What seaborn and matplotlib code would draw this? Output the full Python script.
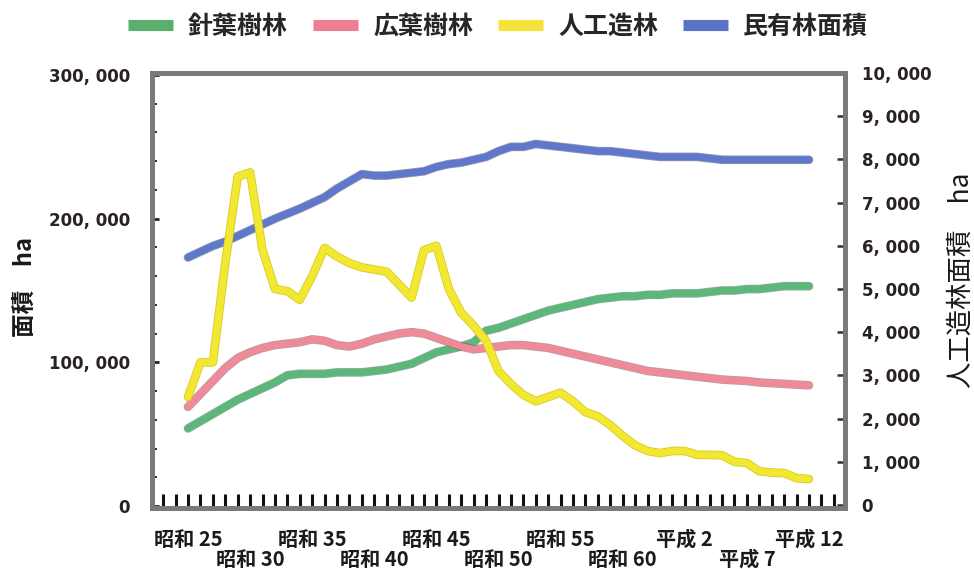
import matplotlib
matplotlib.use("Agg")
import matplotlib.pyplot as plt
import matplotlib.patheffects as pe
from matplotlib.lines import Line2D
from matplotlib.ticker import MultipleLocator, FixedLocator
import numpy as np
import pandas as pd
import seaborn as sns

# ---- data: 民有林の樹種別面積と人工造林面積 (1950–2000) ----
years = list(range(1950, 2001))

# 針葉樹林 (ha)
conifer = [54000, 59000, 64000, 69000, 74000, 78000, 82000, 86000, 91000, 92000,
           92000, 92000, 93000, 93000, 93000, 94000, 95000, 97000, 99000, 103000,
           107000, 109000, 111000, 114000, 122000, 124000, 127000, 130000, 133000, 136000,
           138000, 140000, 142000, 144000, 145000, 146000, 146000, 147000, 147000, 148000,
           148000, 148000, 149000, 150000, 150000, 151000, 151000, 152000, 153000, 153000,
           153000]

# 広葉樹林 (ha)
broadleaf = [69000, 78000, 87000, 96000, 103000, 107000, 110000, 112000, 113000, 114000,
             116000, 115000, 112000, 111000, 113000, 116000, 118000, 120000, 121000, 120000,
             117000, 114000, 111000, 109000, 110000, 111000, 112000, 112000, 111000, 110000,
             108000, 106000, 104000, 102000, 100000, 98000, 96000, 94000, 93000, 92000,
             91000, 90000, 89000, 88000, 87500, 87000, 86000, 85500, 85000, 84500,
             84000]

# 人工造林 (ha, 右軸)
planted = [2500, 3300, 3300, 5600, 7600, 7700, 5900, 5000, 4950, 4750,
           5300, 5950, 5750, 5600, 5500, 5450, 5400, 5100, 4800, 5900,
           6000, 5000, 4450, 4150, 3800, 3100, 2800, 2550, 2400, 2500,
           2600, 2400, 2150, 2050, 1850, 1600, 1380, 1250, 1200, 1250,
           1250, 1160, 1160, 1150, 1000, 970, 780, 750, 740, 620,
           600]

# 民有林面積 (ha)
private_forest = [173000, 177000, 181000, 184000, 188000, 192000, 196000, 200000, 203500, 207000,
                  211000, 215000, 221000, 226000, 231000, 230000, 230000, 231000, 232000, 233000,
                  236000, 238000, 239000, 241000, 243000, 247000, 250000, 250000, 252000, 251000,
                  250000, 249000, 248000, 247000, 247000, 246000, 245000, 244000, 243000, 243000,
                  243000, 243000, 242000, 241000, 241000, 241000, 241000, 241000, 241000, 241000,
                  241000]

series_names = ["針葉樹林", "広葉樹林", "人工造林", "民有林面積"]
series_colors = ["#5cb87a", "#f08a98", "#f2e832", "#5f78cc"]
legend_colors = ["#5aae6e", "#ee7f92", "#f4e43a", "#5b73c6"]

tick_years = list(range(1950, 2001, 5))
tick_labels = ["昭和 25", "昭和 30", "昭和 35", "昭和 40", "昭和 45", "昭和 50",
               "昭和 55", "昭和 60", "平成 2", "平成 7", "平成 12"]

left_ticks = [0, 100000, 200000, 300000]
right_ticks = list(range(0, 10001, 1000))

# ---- style ----
sns.set_theme(style="white")
plt.rcParams["font.family"] = ["Noto Sans CJK JP", "DejaVu Sans"]

df = pd.DataFrame({"year": years, "conifer": conifer, "broadleaf": broadleaf,
                   "planted": planted, "private": private_forest})

fig = plt.figure(figsize=(9.74, 5.69), dpi=100)
ax = fig.add_axes([152 / 974, 1 - 508 / 569, (845 - 152) / 974, (508 - 73) / 569])
ax2 = ax.twinx()


def outline(color):
    c = np.array(matplotlib.colors.to_rgb(color)) * 0.55
    return [pe.Stroke(linewidth=6.2, foreground=c, alpha=0.55), pe.Normal()]


lw = 5.0
sns.lineplot(data=df, x="year", y="private", ax=ax, color=series_colors[3], lw=lw,
             path_effects=outline(series_colors[3]), zorder=3)
sns.lineplot(data=df, x="year", y="conifer", ax=ax, color=series_colors[0], lw=lw,
             path_effects=outline(series_colors[0]), zorder=3)
sns.lineplot(data=df, x="year", y="broadleaf", ax=ax, color=series_colors[1], lw=lw,
             path_effects=outline(series_colors[1]), zorder=3)
sns.lineplot(data=df, x="year", y="planted", ax=ax2, color=series_colors[2], lw=lw,
             path_effects=[pe.Stroke(linewidth=6.2, foreground="#d8cc20"), pe.Normal()],
             zorder=4)

# ---- axes ranges ----
ax.set_xlim(1947.1, 2002.9)
ax.set_ylim(-1400, 301400)
ax2.set_ylim(-70, 10000)

# ---- x axis: every year inward, labels every 5 years in two rows ----
ax.xaxis.set_major_locator(FixedLocator(tick_years))
ax.xaxis.set_minor_locator(MultipleLocator(1))
ax.set_xticklabels([lab if i % 2 == 0 else "\n" + lab for i, lab in enumerate(tick_labels)],
                   fontsize=14.5, fontweight="bold", color="#1a1a1a", linespacing=0.95)
ax.tick_params(axis="x", which="both", direction="in", length=10, width=2.2,
               color="#111111", bottom=True, top=False, pad=15)

# ---- left axis ----
ax.yaxis.set_major_locator(FixedLocator(left_ticks))
ax.yaxis.set_minor_locator(MultipleLocator(20000))
ax.set_yticklabels([f"{v:,}".replace(",", ", ") for v in left_ticks],
                   fontsize=12, fontweight="bold", color="#2a2222",
                   family="DejaVu Sans")
ax.tick_params(axis="y", which="major", direction="in", length=5, width=2,
               color="#222222", left=True, right=False, pad=16)
ax.tick_params(axis="y", which="minor", direction="in", length=3.5, width=1.4,
               color="#333333", left=True, right=False)

# ---- right axis ----
ax2.yaxis.set_major_locator(FixedLocator(right_ticks))
ax2.set_yticklabels([f"{v:,}".replace(",", ", ") for v in right_ticks],
                    fontsize=12, fontweight="bold", color="#2a2222",
                    family="DejaVu Sans")
ax2.tick_params(axis="y", which="major", direction="in", length=6, width=1.8,
                color="#333333", right=True, left=False, pad=12)

ax.set_xlabel("")
ax.set_ylabel("")
ax2.set_ylabel("")

# ---- frame ----
for a in (ax, ax2):
    for s in a.spines.values():
        s.set_color("#7a7a7a")
        s.set_linewidth(3.5)

# ---- axis titles ----
fig.text(25 / 974, 1 - 287 / 569, "面積　ha", rotation=90, ha="center", va="center",
         fontsize=17, fontweight="bold", color="#1a1a1a")
fig.text(961 / 974, 1 - 280 / 569, "人工造林面積　ha", rotation=90, ha="center",
         va="center", fontsize=19, color="#1a1a1a")

# ---- legend ----
handles = [Line2D([0], [0], color=c, lw=8, solid_capstyle="butt") for c in legend_colors]
fig.legend(handles, series_names, loc="center", bbox_to_anchor=(498 / 974, 1 - 27 / 569),
           ncol=4, frameon=False, handlelength=1.8, handletextpad=0.6, columnspacing=1.0,
           prop={"family": ["Noto Sans CJK JP", "DejaVu Sans"], "size": 18, "weight": "bold"})

fig.savefig("out.png", dpi=100, facecolor="white")
